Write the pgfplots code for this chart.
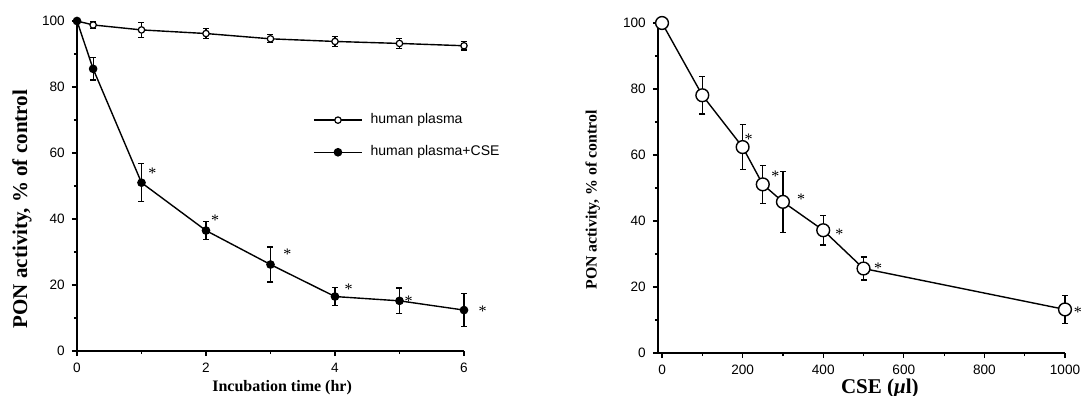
\documentclass[border=0pt]{standalone}
\usepackage{fontspec}
\setmainfont{Liberation Serif}
\newfontfamily\tickfont{Liberation Sans}
\usepackage{pgfplots}
\pgfplotsset{compat=1.18}
\usetikzlibrary{calc}
\tikzset{star/.style={font=\fontsize{8}{8}\selectfont, inner sep=0pt, anchor=center, yshift=-1pt}}
\pgfplotsset{
  myax/.style={
    scale only axis,
    axis lines=left,
    axis line style={-, line width=0.8pt},
    height=165pt,
    ymin=0, ymax=100,
    ytick={0,20,...,100},
    minor y tick num=1,
    minor x tick num=1,
    tick align=outside,
    major tick length=2.6pt,
    minor tick length=1.6pt,
    every tick/.style={black, line width=0.6pt},
    ticklabel style={font=\tickfont\fontsize{6.8}{8}\selectfont},
    /pgf/number format/assume math mode=true,
    /pgf/number format/set thousands separator={},
    clip=false,
  },
  eb/.style={
    error bars/.cd, y dir=both, y explicit,
    error bar style={line width=0.6pt},
    error mark options={rotate=90, mark size=1.5pt, line width=0.6pt},
  },
}
\begin{document}
\begin{tikzpicture}
\begin{axis}[myax, name=L,
  width=193.5pt,
  xmin=0, xmax=6,
  xtick={0,2,4,6},
  xlabel={\fontsize{8}{9}\selectfont\bfseries Incubation time (hr)},
  xlabel style={at={(axis description cs:0.53,0)}, anchor=center, yshift=-18.5pt},
  ylabel={\fontsize{10.5}{12}\selectfont\bfseries PON activity, \% of control},
  ylabel style={at={(axis description cs:-0.142,0.43)}, anchor=center},
  legend style={at={(axis description cs:0.594,0.745)}, anchor=north west,
    draw=none, fill=none, font=\tickfont\fontsize{7}{8}\selectfont,
    row sep=5.5pt, nodes={inner xsep=4pt}},
  legend image code/.code={\draw[mark repeat=2,mark phase=2] plot coordinates {(0pt,0pt)(12pt,0pt)(24pt,0pt)};},
  legend cell align=left,
]
\addplot[black, line width=0.7pt, mark=*, mark size=1.6pt,
  mark options={fill=white, line width=0.6pt}, eb]
  coordinates {(0,100) +- (0,0) (0.25,98.8) +- (0,1.0) (1,97.3) +- (0,2.3)
    (2,96.2) +- (0,1.6) (3,94.6) +- (0,1.2) (4,93.8) +- (0,1.6)
    (5,93.2) +- (0,1.5) (6,92.5) +- (0,1.3)};
\addlegendentry{human plasma}
\addplot[black, line width=0.7pt, mark=*, mark size=1.8pt,
  mark options={fill=black}, eb]
  coordinates {(0,100) +- (0,0) (0.25,85.5) +- (0,3.4) (1,51.0) +- (0,5.8)
    (2,36.5) +- (0,2.8) (3,26.2) +- (0,5.3) (4,16.5) +- (0,2.8)
    (5,15.2) +- (0,3.9) (6,12.4) +- (0,5.0)};
\addlegendentry{human plasma+CSE}
\node[star] at (axis cs:1.17,54.6) {*};
\node[star] at (axis cs:2.14,40.2) {*};
\node[star] at (axis cs:3.26,29.8) {*};
\node[star] at (axis cs:4.21,19.3) {*};
\node[star] at (axis cs:5.14,15.7) {*};
\node[star] at (axis cs:6.29,12.6) {*};
\end{axis}
\begin{axis}[myax, name=R,
  at={($(L.south west)+(290.5pt,-1pt)$)}, anchor=south west,
  width=203.5pt,
  xmin=-10, xmax=1000,
  xtick={0,200,...,1000},
  xlabel={\fontsize{10.5}{12}\selectfont\bfseries CSE (\textit{μ}l)},
  xlabel style={at={(axis description cs:0.545,0)}, anchor=center, yshift=-17.5pt},
  ylabel={\fontsize{7.9}{9}\selectfont\bfseries PON activity, \% of control},
  ylabel style={at={(axis description cs:-0.16,0.464)}, anchor=center},
]
\addplot[black, line width=0.7pt, mark=*, mark size=3.2pt,
  mark options={fill=white, line width=0.7pt}, eb]
  coordinates {(0,100) +- (0,0) (100,78.1) +- (0,5.7) (200,62.4) +- (0,6.9)
    (250,51.1) +- (0,5.7) (300,45.8) +- (0,9.3) (400,37.2) +- (0,4.5)
    (500,25.6) +- (0,3.5) (1000,13.2) +- (0,4.3)};
\node[star] at (axis cs:215,65.3) {*};
\node[star] at (axis cs:281,54.3) {*};
\node[star] at (axis cs:345,47.3) {*};
\node[star] at (axis cs:440,36.7) {*};
\node[star] at (axis cs:536,26.3) {*};
\node[star] at (axis cs:1032,12.9) {*};
\end{axis}
\pgfresetboundingbox
\path[use as bounding box] ([shift={(-38.5pt,-22.5pt)}]L.south west) rectangle ++(544pt,198pt);
\end{tikzpicture}
\end{document}
